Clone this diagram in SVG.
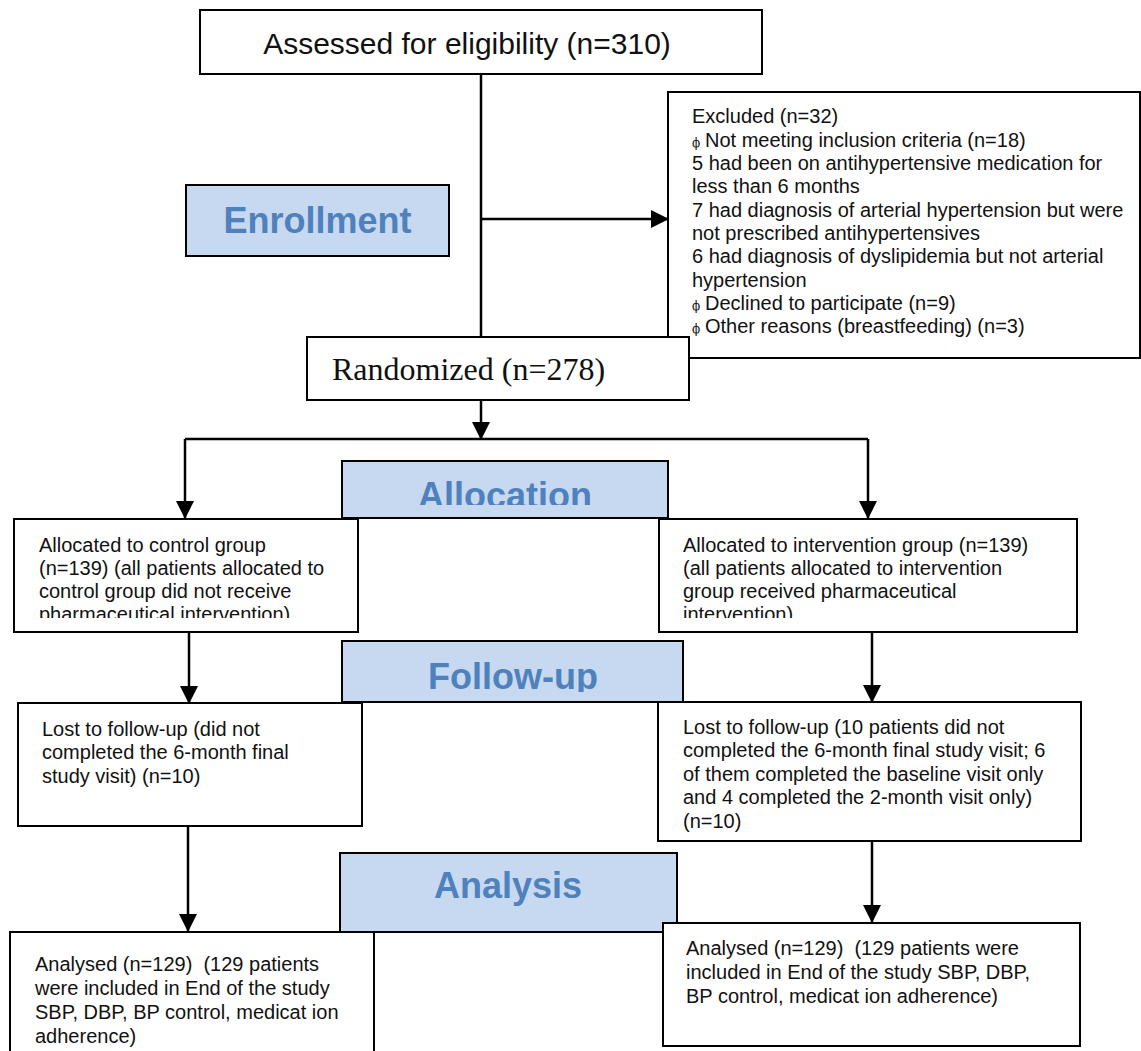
<svg xmlns="http://www.w3.org/2000/svg" width="1141" height="1051" viewBox="0 0 1141 1051">
<style>
.box{fill:#fff;stroke:#000;stroke-width:2}
.stage{fill:#C6D9F1;stroke:#000;stroke-width:2}
.stxt{font-family:"Liberation Sans",Arial,sans-serif;font-weight:bold;font-size:36px;fill:#4F81BD;text-anchor:middle}
.t{font-family:"Liberation Sans",Arial,sans-serif;font-size:20px;fill:#111}
.phi{font-family:"DejaVu Serif",serif;font-size:12px;fill:#111}
.conn{stroke:#000;stroke-width:2.5;fill:none}
</style>
<defs>
<marker id="ah" viewBox="0 0 18 18" refX="17" refY="9" markerWidth="18" markerHeight="18" markerUnits="userSpaceOnUse" orient="auto">
<path d="M0,0 L18,9 L0,18 z" fill="#000"/>
</marker>
<clipPath id="clipAlloc"><rect x="342" y="461" width="326" height="44"/></clipPath>
<clipPath id="clipFollow"><rect x="342" y="641" width="341" height="51"/></clipPath>
<clipPath id="clipAL"><rect x="14" y="519" width="344" height="99"/></clipPath>
<clipPath id="clipAR"><rect x="659" y="519" width="418" height="99"/></clipPath>
</defs>

<g id="connectors">
<line class="conn" x1="481" y1="74" x2="481" y2="337"/>
<line class="conn" x1="481" y1="219" x2="668" y2="219" marker-end="url(#ah)"/>
<line class="conn" x1="481" y1="400" x2="481" y2="439" marker-end="url(#ah)"/>
<polyline class="conn" points="185,439 868,439"/>
<line class="conn" x1="185" y1="439" x2="185" y2="518" marker-end="url(#ah)"/>
<line class="conn" x1="868" y1="439" x2="868" y2="518" marker-end="url(#ah)"/>
<line class="conn" x1="189" y1="632" x2="189" y2="703" marker-end="url(#ah)"/>
<line class="conn" x1="872" y1="632" x2="872" y2="702" marker-end="url(#ah)"/>
<line class="conn" x1="188" y1="826" x2="188" y2="931" marker-end="url(#ah)"/>
<line class="conn" x1="872" y1="841" x2="872" y2="922" marker-end="url(#ah)"/>
</g>

<g id="assessed">
<rect class="box" x="200" y="10" width="562" height="64"/>
<text x="467" y="54" font-family="Liberation Sans, Arial, sans-serif" font-size="30" fill="#111" text-anchor="middle">Assessed for eligibility (n=310)</text>
</g>

<g id="enrollment">
<rect class="stage" x="186" y="185" width="263" height="71"/>
<text class="stxt" x="317.5" y="233">Enrollment</text>
</g>

<g id="excluded">
<rect class="box" x="668" y="92" width="472" height="266"/>
<text class="t" x="692" y="123">Excluded (n=32)</text>
<text class="phi" x="692" y="147">ϕ</text><text class="t" x="705" y="147">Not meeting inclusion criteria (n=18)</text>
<text class="t" x="692" y="170">5 had been on antihypertensive medication for</text>
<text class="t" x="692" y="193">less than 6 months</text>
<text class="t" x="692" y="217">7 had diagnosis of arterial hypertension but were</text>
<text class="t" x="692" y="240">not prescribed antihypertensives</text>
<text class="t" x="692" y="263">6 had diagnosis of dyslipidemia but not arterial</text>
<text class="t" x="692" y="287">hypertension</text>
<text class="phi" x="692" y="310">ϕ</text><text class="t" x="705" y="310">Declined to participate (n=9)</text>
<text class="phi" x="692" y="333">ϕ</text><text class="t" x="705" y="333">Other reasons (breastfeeding) (n=3)</text>
</g>

<g id="randomized">
<rect class="box" x="307" y="337" width="382" height="63"/>
<text x="332" y="380" font-family="Liberation Serif, Times New Roman, serif" font-size="32" fill="#111">Randomized (n=278)</text>
</g>

<g id="allocation">
<rect class="stage" x="342" y="461" width="326" height="57"/>
<text class="stxt" x="505" y="508" clip-path="url(#clipAlloc)">Allocation</text>
</g>

<g id="alloc-control">
<rect class="box" x="14" y="519" width="344" height="113"/>
<g clip-path="url(#clipAL)">
<text class="t" x="39" y="552">Allocated to control group</text>
<text class="t" x="39" y="575">(n=139) (all patients allocated to</text>
<text class="t" x="39" y="598">control group did not receive</text>
<text class="t" x="39" y="621">pharmaceutical intervention)</text>
</g>
</g>

<g id="alloc-intervention">
<rect class="box" x="659" y="519" width="418" height="113"/>
<g clip-path="url(#clipAR)">
<text class="t" x="683" y="552">Allocated to intervention group (n=139)</text>
<text class="t" x="683" y="575">(all patients allocated to intervention</text>
<text class="t" x="683" y="598">group received pharmaceutical</text>
<text class="t" x="683" y="621">intervention)</text>
</g>
</g>

<g id="followup">
<rect class="stage" x="342" y="641" width="341" height="61"/>
<text class="stxt" x="513" y="689" clip-path="url(#clipFollow)">Follow-up</text>
</g>

<g id="lost-control">
<rect class="box" x="18" y="703" width="344" height="123"/>
<text class="t" x="42" y="736">Lost to follow-up (did not</text>
<text class="t" x="42" y="759">completed the 6-month final</text>
<text class="t" x="42" y="783">study visit) (n=10)</text>
</g>

<g id="lost-intervention">
<rect class="box" x="658" y="702" width="423" height="139"/>
<text class="t" x="683" y="734">Lost to follow-up (10 patients did not</text>
<text class="t" x="683" y="757">completed the 6-month final study visit; 6</text>
<text class="t" x="683" y="781">of them completed the baseline visit only</text>
<text class="t" x="683" y="804">and 4 completed the 2-month visit only)</text>
<text class="t" x="683" y="828">(n=10)</text>
</g>

<g id="analysis">
<rect class="stage" x="340" y="853" width="337" height="79"/>
<text class="stxt" x="508" y="898">Analysis</text>
</g>

<g id="analysed-control">
<rect class="box" x="10" y="932" width="364" height="140"/>
<text class="t" x="35" y="971" xml:space="preserve">Analysed (n=129)  (129 patients</text>
<text class="t" x="35" y="995">were included in End of the study</text>
<text class="t" x="35" y="1019">SBP, DBP, BP control, medicat ion</text>
<text class="t" x="35" y="1043">adherence)</text>
</g>

<g id="analysed-intervention">
<rect class="box" x="663" y="923" width="417" height="123"/>
<text class="t" x="686" y="955" xml:space="preserve">Analysed (n=129)  (129 patients were</text>
<text class="t" x="686" y="979">included in End of the study SBP, DBP,</text>
<text class="t" x="686" y="1003">BP control, medicat ion adherence)</text>
</g>
</svg>
